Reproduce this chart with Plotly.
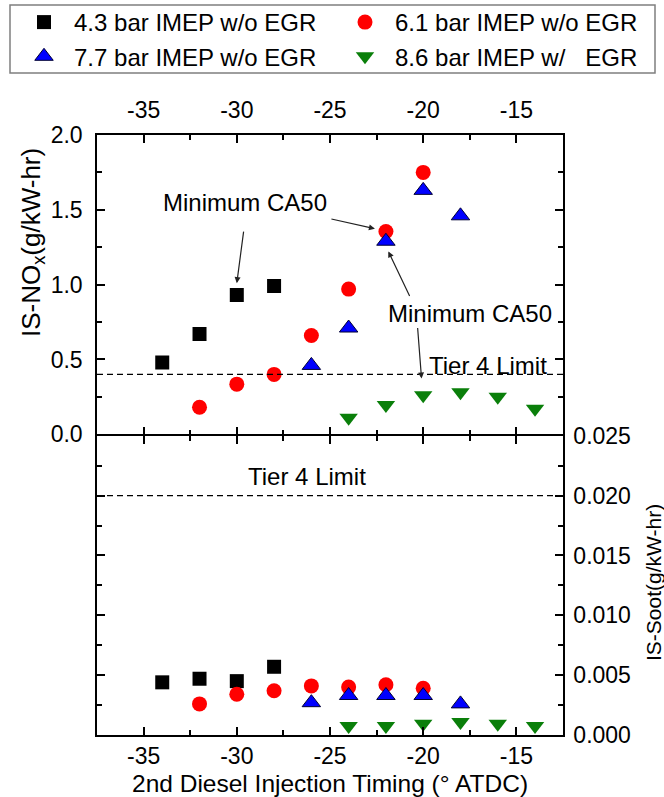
import plotly.graph_objects as go

# Second diesel injection timing (deg ATDC) per operating point
timing_43 = [-34, -32, -30, -28]
timing_61 = [-32, -30, -28, -26, -24, -22, -20]
timing_77 = [-26, -24, -22, -20, -18]
timing_86 = [-24, -22, -20, -18, -16, -14]

# Indicated specific NOx (g/kW-hr)
nox_43 = [0.48, 0.67, 0.93, 0.99]
nox_61 = [0.18, 0.335, 0.40, 0.66, 0.97, 1.355, 1.75]
nox_77 = [0.46, 0.71, 1.29, 1.63, 1.46]
nox_86 = [0.11, 0.195, 0.26, 0.28, 0.25, 0.17]

# Indicated specific soot (g/kW-hr)
soot_43 = [0.0044, 0.0047, 0.0045, 0.0057]
soot_61 = [0.0026, 0.0034, 0.0037, 0.0041, 0.0040, 0.0042, 0.0039]
soot_77 = [0.0027, 0.0033, 0.0033, 0.0033, 0.0026]
soot_86 = [0.00075, 0.00075, 0.00094, 0.00108, 0.00094, 0.00075]

series_names = ["4.3 bar IMEP w/o EGR", "6.1 bar IMEP w/o EGR",
                "7.7 bar IMEP w/o EGR", "8.6 bar IMEP w/   EGR"]
# legend column of each series (two columns inside one box)
legend_columns = ["legend", "legend2", "legend", "legend2"]

timing_ticks = [-35, -30, -25, -20, -15]
timing_tick_text = ["-35", "-30", "-25", "-20", "-15"]

tier4_nox = 0.4
tier4_soot = 0.02

x_range = [-37.5, -12.5]
nox_range = [0, 2.0]
soot_range = [0, 0.025]

FONT = "Liberation Sans, Arial, sans-serif"
W, H = 664, 797
ML, MR, MT, MB = 97, 101, 135, 62
PW, PH = W - ML - MR, H - MT - MB

styles = [
    dict(symbol="square", color="black", size=14, line=dict(width=0)),
    dict(symbol="circle", color="#ff0000", size=15, line=dict(width=0)),
    dict(symbol="triangle-up", color="#0000ff", size=16, line=dict(width=1, color="#000033")),
    dict(symbol="triangle-down", color="#0a7f0a", size=16, line=dict(width=0)),
]

data = [
    (timing_43, nox_43, soot_43),
    (timing_61, nox_61, soot_61),
    (timing_77, nox_77, soot_77),
    (timing_86, nox_86, soot_86),
]

fig = go.Figure()
for name, style, col, (tx, nox, soot) in zip(series_names, styles, legend_columns, data):
    fig.add_trace(go.Scatter(x=tx, y=nox, mode="markers", name=name, legendgroup=name,
                             legend=col, marker=style, xaxis="x", yaxis="y"))
    fig.add_trace(go.Scatter(x=tx, y=soot, mode="markers", name=name, legendgroup=name,
                             legend=col, showlegend=False, marker=style,
                             xaxis="x2", yaxis="y2"))

frame = dict(showline=True, linecolor="black", linewidth=1.5, mirror="allticks",
             ticks="inside", ticklen=8, tickwidth=1.5, tickcolor="black",
             showgrid=False, zeroline=False,
             tickfont=dict(family=FONT, size=23, color="black"))
minor_x = dict(tick0=-35, dtick=2.5, ticks="inside", ticklen=5, tickwidth=1.5, tickcolor="black")

# the two panels touch; half a line width is trimmed from each so their shared border stays thin
half_line = 0.75 / PH

legend_common = dict(orientation="v", xref="container", yref="container",
                     xanchor="left", yanchor="top", borderwidth=0,
                     bgcolor="rgba(0,0,0,0)", itemwidth=50, tracegroupgap=0,
                     font=dict(family=FONT, size=24, color="black"))

fig.update_layout(
    width=W, height=H,
    margin=dict(l=ML, r=MR, t=MT, b=MB, autoexpand=False),
    paper_bgcolor="white", plot_bgcolor="white",
    font=dict(family=FONT, color="black"),
    xaxis=dict(frame, domain=[0, 1], anchor="y", side="top", range=x_range,
               tickvals=timing_ticks, ticktext=timing_tick_text,
               ticklabelstandoff=6, minor=minor_x),
    yaxis=dict(frame, domain=[0.5 + half_line, 1], anchor="x", range=nox_range,
               dtick=0.5, tickformat=".1f", ticklabelstandoff=8,
               minor=dict(dtick=0.25, ticks="inside", ticklen=5,
                          tickwidth=1.5, tickcolor="black")),
    xaxis2=dict(frame, domain=[0, 1], anchor="y2", side="bottom", range=x_range,
                matches="x", tickvals=timing_ticks, ticktext=timing_tick_text,
                ticklabelstandoff=0, minor=minor_x),
    yaxis2=dict(frame, domain=[0, 0.5 - half_line], anchor="x2", side="right", range=soot_range,
                dtick=0.005, tickformat=".3f", ticklabelstandoff=4,
                minor=dict(dtick=0.0025, ticks="inside", ticklen=5,
                           tickwidth=1.5, tickcolor="black")),
    legend=dict(legend_common, x=14 / W, y=1 + 3 / H),
    legend2=dict(legend_common, x=335 / W, y=1 + 3 / H),
    showlegend=True,
)

# Box framing both legend columns
fig.add_shape(type="rect", xref="paper", yref="paper",
              x0=(10 - ML) / PW, x1=(655 - ML) / PW,
              y0=(MT + PH - 73) / PH, y1=(MT + PH - 5) / PH,
              line=dict(color="#7f7f7f", width=1.5), fillcolor="rgba(0,0,0,0)", layer="below")

# Tier 4 emission limits
limit_line = dict(color="black", width=1.2, dash="6px,4px")
fig.add_shape(type="line", xref="x domain", yref="y", x0=0, x1=1, y0=tier4_nox, y1=tier4_nox,
              line=limit_line)
fig.add_shape(type="line", xref="x2 domain", yref="y2", x0=0, x1=1, y0=tier4_soot, y1=tier4_soot,
              line=limit_line)

ann_font = dict(family=FONT, size=24, color="black")
fig.add_annotation(x=-16.55, y=0.462, xref="x", yref="y", text="Tier 4 Limit",
                   showarrow=False, font=ann_font)
fig.add_annotation(x=-26.23, y=0.0216, xref="x2", yref="y2", text="Tier 4 Limit",
                   showarrow=False, font=ann_font)
fig.add_annotation(x=-29.56, y=1.546, xref="x", yref="y", text="Minimum CA50",
                   showarrow=False, font=ann_font)
fig.add_annotation(x=-17.49, y=0.809, xref="x", yref="y", text="Minimum CA50",
                   showarrow=False, font=ann_font)

arrow = dict(showarrow=True, arrowhead=2, arrowsize=1, arrowwidth=1.2,
             arrowcolor="#222222", text="", xref="x", yref="y", standoff=0)
fig.add_annotation(x=-30.0, y=1.01, ax=7, ay=-53, **arrow)
fig.add_annotation(x=-22.59, y=1.374, ax=-45, ay=-10, **arrow)
fig.add_annotation(x=-21.87, y=1.222, ax=22, ay=46, **arrow)
fig.add_annotation(x=-20.09, y=0.373, ax=-4, ay=-52, **arrow)

# Axis titles
fig.add_annotation(x=0.5, y=-49 / PH, xref="paper", yref="paper",
                   xanchor="center", yanchor="middle",
                   text="2nd Diesel Injection Timing (\u00b0 ATDC)", showarrow=False,
                   font=dict(family=FONT, size=24.5, color="black"))
fig.add_annotation(x=-65 / PW, y=(735 - 243) / PH, xref="paper", yref="paper",
                   xanchor="center", yanchor="middle",
                   text="IS-NO<sub>x</sub>(g/kW-hr)", textangle=-90, showarrow=False,
                   font=dict(family=FONT, size=26, color="black"))
fig.add_annotation(x=(653 - ML) / PW, y=(735 - 583) / PH, xref="paper", yref="paper",
                   xanchor="center", yanchor="middle",
                   text="IS-Soot(g/kW-hr)", textangle=-90, showarrow=False,
                   font=dict(family=FONT, size=21, color="black"))

fig.write_html("out.html")
